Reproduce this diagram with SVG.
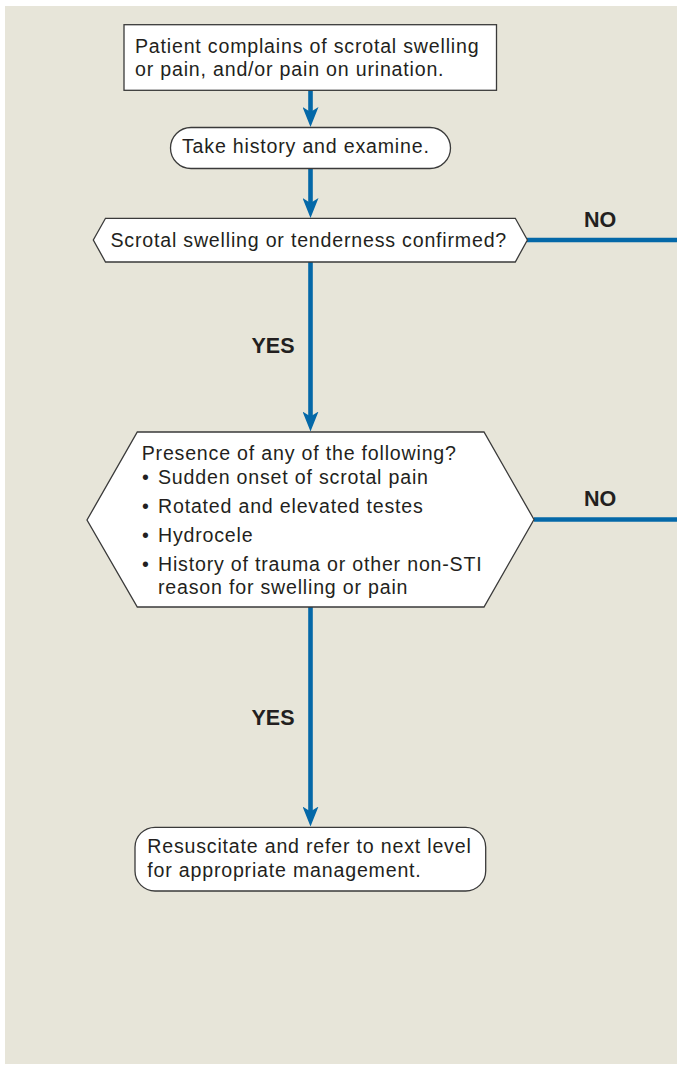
<svg xmlns="http://www.w3.org/2000/svg" width="677" height="1065" viewBox="0 0 677 1065">
<defs>
<style>
.bg{fill:#e7e5d9}
.node{fill:#ffffff;stroke:#3a3a3a;stroke-width:1.3}
.t{font-family:"Liberation Sans",Arial,sans-serif;font-size:19.6px;letter-spacing:0.8px;fill:#231f20}
.lbl{font-family:"Liberation Sans",Arial,sans-serif;font-size:21.5px;font-weight:bold;fill:#231f20}
.conn{stroke:#0468a8;stroke-width:4.6;fill:none}
</style>
<marker id="ah" viewBox="0 0 20 16" refX="10" refY="8" markerWidth="20" markerHeight="16" orient="auto" markerUnits="userSpaceOnUse">
<path d="M0,0 L20,8 L0,16 L5,8 Z" fill="#0468a8"/>
</marker>
</defs>
<rect class="bg" x="5" y="6" width="672" height="1058"/>
<g id="connectors">
<line class="conn" x1="310.5" y1="90" x2="310.5" y2="117" marker-end="url(#ah)"/>
<line class="conn" x1="310.5" y1="168" x2="310.5" y2="208" marker-end="url(#ah)"/>
<line class="conn" x1="527" y1="240" x2="677" y2="240"/>
<line class="conn" x1="310.5" y1="262" x2="310.5" y2="421.5" marker-end="url(#ah)"/>
<line class="conn" x1="534" y1="519.5" x2="677" y2="519.5"/>
<line class="conn" x1="310.5" y1="607" x2="310.5" y2="816.5" marker-end="url(#ah)"/>
<text class="lbl" x="600" y="227" text-anchor="middle">NO</text>
<text class="lbl" x="273" y="353" text-anchor="middle">YES</text>
<text class="lbl" x="600" y="506" text-anchor="middle">NO</text>
<text class="lbl" x="273" y="725" text-anchor="middle">YES</text>
</g>
<g id="n1">
<rect class="node" x="124" y="24.7" width="372.5" height="65.6"/>
<text class="t" x="135" y="53.3">Patient complains of scrotal swelling</text>
<text class="t" x="135" y="75.5">or pain, and/or pain on urination.</text>
</g>
<g id="n2">
<rect class="node" x="170.5" y="127.5" width="280" height="41" rx="20.5"/>
<text class="t" x="182" y="153.3">Take history and examine.</text>
</g>
<g id="n3">
<polygon class="node" points="105.5,218.3 515.3,218.3 527.4,240 515.3,262 105.5,262 93.3,240"/>
<text class="t" x="110.5" y="246.7">Scrotal swelling or tenderness confirmed?</text>
</g>
<g id="n4">
<polygon class="node" points="137.3,432 484,432 534,519.5 484,607 137.3,607 87,520"/>
<text class="t" x="141.7" y="460">Presence of any of the following?</text>
<text class="t" y="484"><tspan x="142">•</tspan><tspan x="158">Sudden onset of scrotal pain</tspan></text>
<text class="t" y="512.5"><tspan x="142">•</tspan><tspan x="158">Rotated and elevated testes</tspan></text>
<text class="t" y="542"><tspan x="142">•</tspan><tspan x="158">Hydrocele</tspan></text>
<text class="t" y="571"><tspan x="142">•</tspan><tspan x="158">History of trauma or other non-STI</tspan></text>
<text class="t" x="158" y="594">reason for swelling or pain</text>
</g>
<g id="n5">
<rect class="node" x="135" y="827.3" width="350.7" height="63.7" rx="20"/>
<text class="t" x="147.3" y="853.3">Resuscitate and refer to next level</text>
<text class="t" x="147.3" y="876.7">for appropriate management.</text>
</g>
</svg>
